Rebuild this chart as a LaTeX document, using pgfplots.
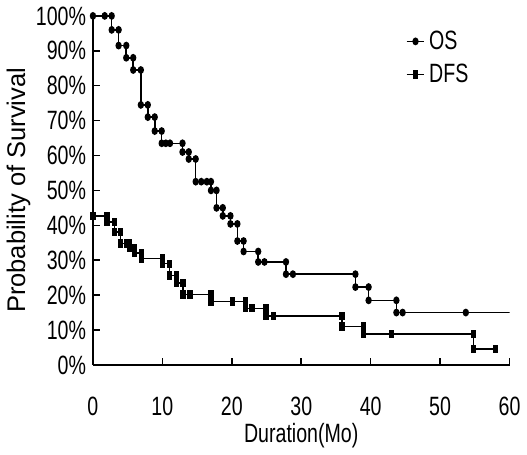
\documentclass[border=0pt]{standalone}
\usepackage{fontspec}
\setmainfont{Liberation Sans}
\newfontfamily\narrow[FakeStretch=0.74]{Liberation Sans}
\usepackage{pgfplots}
\pgfplotsset{compat=1.18}

\begin{document}
\begin{tikzpicture}
\begin{axis}[
    scale only axis,
    width=212.5pt, height=178pt,
    xmin=0, xmax=60, ymin=0, ymax=100,
    enlargelimits=false,
    axis lines*=left,
    axis line style={line width=1pt},
    tick align=inside,
    major tick length=3.5pt,
    tick style={line width=0.8pt, black},
    xtick={0,10,...,60},
    xticklabels={0,10,20,30,40,50,60},
    ytick={0,10,...,100},
    yticklabels={0\%,10\%,20\%,30\%,40\%,50\%,60\%,70\%,80\%,90\%,100\%},
    tick label style={font=\narrow\fontsize{13.5}{15}\selectfont},
    xticklabel style={yshift=-13pt},
    xlabel={Duration(Mo)},
    xlabel style={font=\narrow\fontsize{13.5}{15}\selectfont, yshift=3pt},
    ylabel={Probability of Survival},
    ylabel style={font=\fontsize{13}{15}\selectfont, yshift=-4pt},
    legend style={at={(0.75,0.97)}, anchor=north west, draw=none, fill=none,
        font=\narrow\fontsize{13.5}{15}\selectfont, row sep=2pt,
        inner sep=0pt},
    legend cell align=left,
    legend image code/.code={%
        \draw[mark repeat=2,mark phase=2] plot coordinates {(0cm,0cm) (0.16cm,0cm) (0.32cm,0cm)};},
]

% OS: step corners plus censored marks
\addplot[black, line width=0.8pt, mark=*, mark size=1.2pt,
    mark options={yscale=1.3}] coordinates {
    (0,100) (1.7,100) (2.7,100) (2.7,96) (3.7,96) (3.7,91.5)
    (4.8,91.5) (4.8,88) (5.8,88) (5.8,84.5) (6.9,84.5) (6.9,74.5)
    (7.9,74.5) (7.9,71) (8.9,71) (8.9,67) (9.9,67) (9.9,63.5)
    (10.5,63.5) (11.1,63.5) (12.9,63.5) (12.9,61) (13.8,61) (13.8,59)
    (14.8,59) (14.8,52.5) (15.6,52.5) (16.4,52.5) (17.0,52.5) (17.0,50)
    (17.8,50) (17.8,45) (18.7,45) (18.7,42.7) (19.8,42.7) (19.8,40.4)
    (20.8,40.4) (20.8,35.5) (21.7,35.5) (21.7,32.5) (23.8,32.5) (23.8,29.5)
    (24.7,29.5) (27.8,29.5) (27.8,26) (28.8,26) (37.8,26) (37.8,22.3)
    (39.7,22.3) (39.7,18.5) (43.7,18.5) (43.7,15) (44.6,15) (53.7,15)
};
\addlegendentry{OS}

% DFS
\addplot[black, line width=0.8pt, mark=square*, mark size=1.0pt,
    mark options={yscale=1.7}] coordinates {
    (0,42.7) (2,42.7) (2,41) (3.1,41) (3.1,38) (4,38) (4,34.8)
    (4.8,34.8) (5.3,34.8) (5.3,33.6) (6,33.6) (6,32) (7,32) (7,30.5)
    (10,30.5) (10,29) (11,29) (11,25.6) (12,25.6) (12,23.4) (13,23.4)
    (13,20.2) (14,20.2) (17,20.2) (17,18.2) (20.1,18.2) (22,18.2) (22,16.2)
    (22.9,16.2) (24.9,16.2) (24.9,14) (26,14) (35.9,14) (35.9,11)
    (39,11) (39,8.8) (43,8.8) (54.8,8.8) (54.8,4.6) (58,4.6)
};
\addlegendentry{DFS}

% OS tail beyond last mark
\addplot[black, line width=0.8pt, forget plot] coordinates {(53.7,15) (60,15)};

\end{axis}
\end{tikzpicture}
\end{document}
